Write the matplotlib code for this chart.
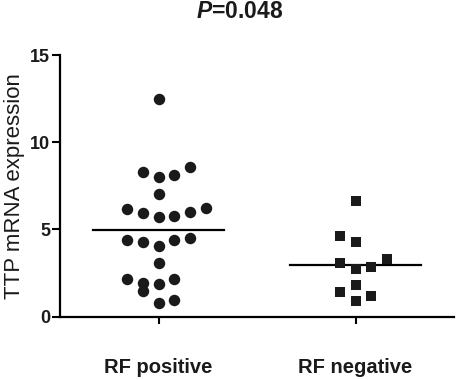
import numpy as np
import matplotlib.pyplot as plt

plt.rcParams['font.family'] = ['Liberation Sans', 'DejaVu Sans']
plt.rcParams['mathtext.fontset'] = 'custom'
plt.rcParams['mathtext.bfit'] = 'Liberation Sans:italic:bold'
plt.rcParams['mathtext.bf'] = 'Liberation Sans:bold'
plt.rcParams['mathtext.rm'] = 'Liberation Sans'

# Data
groups = ['RF positive', 'RF negative']
rf_pos = [12.46, 8.31, 7.99, 8.12, 8.59, 7.03,
          6.17, 5.96, 5.73, 5.77, 6.01, 6.24,
          4.39, 4.26, 4.04, 4.39, 4.49, 3.05,
          2.15, 1.94, 1.48, 1.85, 2.15, 0.79, 0.95]
rf_pos_col = [0, -1, 0, 1, 2, 0,
              -2, -1, 0, 1, 2, 3,
              -2, -1, 0, 1, 2, 0,
              -2, -1, -1, 0, 1, 0, 1]
rf_neg = [6.63, 4.64, 4.29, 3.09, 2.73, 2.82, 3.30, 1.81, 1.39, 1.18, 0.91]
rf_neg_col = [0, -1, 0, -1, 0, 1, 2, 0, -1, 1, 0]

fig = plt.figure(figsize=(4.57, 3.80), dpi=100)
ax = fig.add_axes([60 / 457, 63.5 / 380, 394 / 457, 261.5 / 380])

step = 0.081
x1 = 1 + step * np.array(rf_pos_col)
x2 = 2 + step * np.array(rf_neg_col)
ax.scatter(x1, rf_pos, s=68, marker='o', color='#1a1a1a', zorder=3, linewidths=0)
ax.scatter(x2, rf_neg, s=55, marker='s', color='#1a1a1a', zorder=3, linewidths=0)

for x, vals in [(1, rf_pos), (2, rf_neg)]:
    m = np.mean(vals)
    ax.plot([x - 0.335, x + 0.335], [m, m], color='black', lw=1.6, zorder=2)

ax.set_xlim(0.5, 2.5)
ax.set_ylim(0, 15)
ax.set_yticks([0, 5, 10, 15])
ax.set_xticks([1, 2])
ax.set_xticklabels(groups, fontsize=14.5, fontweight='bold', color='#1a1a1a')
for lab in ax.get_yticklabels():
    lab.set_fontweight('bold')
    lab.set_fontsize(13)
    lab.set_color('#1a1a1a')
ax.tick_params(axis='y', length=6, width=1.5, pad=1)
ax.tick_params(axis='x', length=5, width=1.5, pad=25)
for s in ['top', 'right']:
    ax.spines[s].set_visible(False)
for s in ['left', 'bottom']:
    ax.spines[s].set_linewidth(1.6)

ax.set_ylabel('TTP mRNA expression', fontsize=16, labelpad=4, color='#1a1a1a')
fig.text(240 / 457, 1 - 12 / 380, r'$\mathbfit{P}$=0.048', ha='center', va='center',
         fontsize=16.5, fontweight='bold', color='#1a1a1a')

fig.savefig('out.png', dpi=100)
